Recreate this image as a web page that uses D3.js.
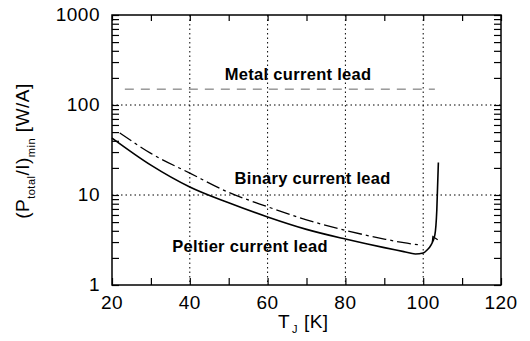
<!DOCTYPE html>
<html>
<head>
<meta charset="utf-8">
<script src="https://cdn.jsdelivr.net/npm/d3@7"></script>
<style>
  body { margin: 0; background: #fff; }
  text { font-family: "Liberation Sans", Arial, sans-serif; fill: #000; }
</style>
</head>
<body>
<div id="svg_container"></div>
<script>
const w = 389;
const h = 270;
const xPadding = 112;
const yPadding = 15;

// Peltier current lead (solid)
const peltierT = [20, 30, 40, 50, 60, 70, 80, 90, 95, 98, 100, 101, 102, 103, 103.5, 103.9];
const peltierV = [43, 21.5, 12.3, 8.2, 5.7, 4.15, 3.24, 2.6, 2.35, 2.21, 2.27, 2.45, 2.78, 3.6, 6.8, 23];
// Binary current lead (dash-dot)
const binaryT = [22, 30, 40, 50, 60, 70, 80, 90, 95, 98.7];
const binaryV = [49, 29, 17.5, 10.7, 7.4, 5.3, 4.05, 3.24, 2.95, 2.8];
// Metal current lead (dotted)
const metalT = [23.3, 103];
const metalV = [150, 150];
// little arrow on the Peltier curve
const arrowT = [102.7];
const arrowV = [3.3];

const xTicks = [20, 40, 60, 80, 100, 120];
const yTicks = [1, 10, 100, 1000];
const xGrid = [40, 60, 80, 100];
const yGrid = [10, 100];

const labels = [
  { text: 'Metal current lead', t: 49, v: 190 },
  { text: 'Binary current lead', t: 51.5, v: 13.2 },
  { text: 'Peltier current lead', t: 35.5, v: 2.32 }
];

let svg = d3.select('#svg_container')
              .append('svg')
              .attr('width', 530)
              .attr('height', 341);

let g = svg.append('g')
             .attr('transform', `translate(${xPadding}, ${yPadding})`);

let xScale = d3.scaleLinear().domain([20, 120]).range([0, w]);
let yScale = d3.scaleLog().domain([1, 1000]).range([h, 0]);

// grid
g.selectAll('.vgrid')
  .data(xGrid)
  .enter()
  .append('line')
  .attr('x1', d => xScale(d)).attr('x2', d => xScale(d))
  .attr('y1', 0).attr('y2', h)
  .attr('stroke', '#000').attr('stroke-width', 1)
  .attr('stroke-dasharray', '1.5,3');

g.selectAll('.hgrid')
  .data(yGrid)
  .enter()
  .append('line')
  .attr('x1', 0).attr('x2', w)
  .attr('y1', d => yScale(d)).attr('y2', d => yScale(d))
  .attr('stroke', '#000').attr('stroke-width', 1)
  .attr('stroke-dasharray', '1.5,3');

// minor log ticks
let logTicks = [];
for (let dec of [1, 10, 100]) {
  for (let k = 1; k <= 9; k++) logTicks.push(dec * k);
}
logTicks.push(1000);

let axisStyle = sel => {
  sel.select('.domain').remove();
  sel.selectAll('line').attr('stroke', '#000').attr('stroke-width', 1.2);
  sel.selectAll('text').remove();
};

g.append('g')
  .attr('transform', `translate(0, ${h})`)
  .call(d3.axisBottom(xScale).tickValues(d3.range(20, 121, 10)).tickSize(-7))
  .call(axisStyle);
g.append('g')
  .call(d3.axisTop(xScale).tickValues(d3.range(20, 121, 10)).tickSize(-6))
  .call(axisStyle);
g.append('g')
  .call(d3.axisLeft(yScale).tickValues(logTicks).tickSize(-7))
  .call(axisStyle);
g.append('g')
  .attr('transform', `translate(${w}, 0)`)
  .call(d3.axisRight(yScale).tickValues(logTicks).tickSize(-7))
  .call(axisStyle);

// frame
g.append('rect')
  .attr('x', 0).attr('y', 0)
  .attr('width', w).attr('height', h)
  .attr('fill', 'none')
  .attr('stroke', '#000')
  .attr('stroke-width', 1.5);

// tick labels
g.selectAll('.xlab')
  .data(xTicks)
  .enter()
  .append('text')
  .attr('x', d => xScale(d))
  .attr('y', h + 24)
  .attr('text-anchor', 'middle')
  .attr('font-size', 19)
  .attr('letter-spacing', 0.5)
  .text(d => d);

g.selectAll('.ylab')
  .data(yTicks)
  .enter()
  .append('text')
  .attr('x', -12)
  .attr('y', d => yScale(d) + 6)
  .attr('text-anchor', 'end')
  .attr('font-size', 19)
  .attr('letter-spacing', 0.5)
  .text(d => d);

// series
let line = d3.line()
               .x(d => xScale(d[0]))
               .y(d => yScale(d[1]))
               .curve(d3.curveMonotoneX);

g.append('path')
  .datum(peltierT.map((t, i) => [t, peltierV[i]]))
  .attr('d', line)
  .attr('fill', 'none')
  .attr('stroke', '#000')
  .attr('stroke-width', 1.6);

g.append('path')
  .datum(binaryT.map((t, i) => [t, binaryV[i]]))
  .attr('d', line)
  .attr('fill', 'none')
  .attr('stroke', '#000')
  .attr('stroke-width', 1.3)
  .attr('stroke-dasharray', '14,4,3,4');

g.append('path')
  .datum(metalT.map((t, i) => [t, metalV[i]]))
  .attr('d', line)
  .attr('fill', 'none')
  .attr('stroke', '#666')
  .attr('stroke-width', 1)
  .attr('stroke-dasharray', '9,7');

g.selectAll('.arrow')
  .data(arrowT.map((t, i) => [t, arrowV[i]]))
  .enter()
  .append('path')
  .attr('transform', d => `translate(${xScale(d[0])}, ${yScale(d[1])}) rotate(-25)`)
  .attr('d', 'M-3,3 L0,-2 L3,3')
  .attr('fill', 'none')
  .attr('stroke', '#000')
  .attr('stroke-width', 1.2);

// curve labels
g.selectAll('.clab')
  .data(labels)
  .enter()
  .append('text')
  .attr('x', d => xScale(d.t))
  .attr('y', d => yScale(d.v))
  .attr('font-size', 16.5)
  .attr('font-weight', 'bold')
  .attr('letter-spacing', 0.3)
  .text(d => d.text);

// axis titles
let xt = svg.append('text')
              .attr('x', 278)
              .attr('y', 328)
              .attr('font-size', 19)
              .attr('letter-spacing', 0.5);
xt.append('tspan').text('T');
xt.append('tspan').attr('font-size', 11).attr('dy', 5).attr('dx', 2).text('J');
xt.append('tspan').attr('dy', -5).text(' [K]');

let yt = svg.append('text')
              .attr('transform', 'translate(29, 151) rotate(-90)')
              .attr('text-anchor', 'middle')
              .attr('font-size', 19)
              .attr('letter-spacing', 0.5);
yt.append('tspan').text('(P');
yt.append('tspan').attr('font-size', 11).attr('dy', 6).text('total');
yt.append('tspan').attr('dy', -6).text('/I)');
yt.append('tspan').attr('font-size', 11).attr('dy', 6).text('min');
yt.append('tspan').attr('dy', -6).text(' [W/A]');
</script>
</body>
</html>
